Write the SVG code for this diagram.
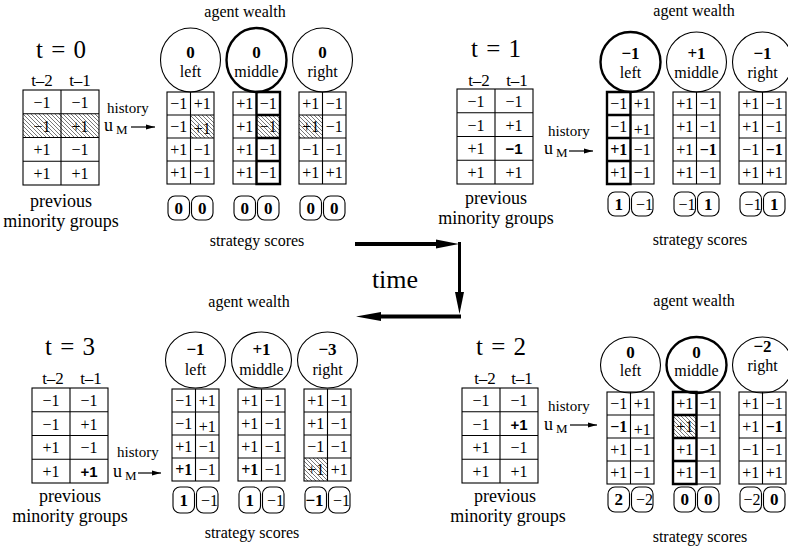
<svg xmlns="http://www.w3.org/2000/svg" width="788" height="546" viewBox="0 0 788 546">
<defs>
<style>
.cell{fill:none;stroke:#000;stroke-width:1.1}
.tk{fill:none;stroke:#000;stroke-width:2.4}
.ht{fill:url(#hatch);stroke:none}
.sr{font-family:"Liberation Serif","Times New Roman",serif;fill:#000}
.v{font-size:16px;text-anchor:middle}
.b{font-weight:bold}
.hs{font-family:"Liberation Sans",Arial,sans-serif;font-size:15px;font-weight:bold;text-anchor:middle}
.ci{fill:#fff;stroke:#000;stroke-width:1.1}
.cik{fill:#fff;stroke:#000;stroke-width:2.4}
.box{fill:none;stroke:#000;stroke-width:1.1}
.num{font-size:17px;font-weight:bold;text-anchor:middle}
.lbl{font-size:16px;text-anchor:middle}
.ttl{font-size:25px;text-anchor:middle;word-spacing:2px}
.tc{font-size:17px;text-anchor:middle}
.hist{font-size:15px}
.u{font-size:18px}
.m{font-size:13px}
.cap{font-size:18px;text-anchor:middle}
.hd{font-size:16px;text-anchor:middle}
.arr{stroke:#000;stroke-width:1.2;fill:none;marker-end:url(#ah)}
</style>
<pattern id="hatch" patternUnits="userSpaceOnUse" width="4" height="4">
<path d="M-1,-1L5,5M-1,3L1,5M3,-1L5,1" stroke="#555" stroke-width="0.8"/>
</pattern>
<marker id="ah" markerWidth="10" markerHeight="6" refX="9" refY="3" orient="auto" markerUnits="userSpaceOnUse"><path d="M0,0.6L9,3L0,5.4Z" fill="#000"/></marker>
<g id="sg"><rect width="47" height="92" class="cell"/><path class="cell" d="M23.5,0V92M0,23H47M0,46H47M0,69H47"/></g>
<g id="hg"><rect width="76" height="95" class="cell"/><path class="cell" d="M38,0V95M0,23.75H76M0,47.5H76M0,71.25H76"/></g>
</defs>
<rect width="788" height="546" fill="#fff"/>

<!-- ================= t = 0 ================= -->
<g id="t0-history" class="sr">
<text class="ttl" x="61" y="58">t = 0</text>
<text class="tc" x="42" y="86">t–2</text><text class="tc" x="80" y="86">t–1</text>
<g transform="translate(23,90)">
<rect class="ht" x="0" y="23.75" width="76" height="23.75"/>
<use href="#hg"/>
<g class="v">
<text x="19" y="17.5">−1</text><text x="57" y="17.5">−1</text>
<text x="19" y="41.5">−1</text><text x="57" y="41.5">+1</text>
<text x="19" y="65">+1</text><text x="57" y="65">−1</text>
<text x="19" y="88.5">+1</text><text x="57" y="88.5">+1</text>
</g>
</g>
<text class="hist" x="107" y="113">history</text>
<text class="u" x="104" y="131">u</text><text class="m" x="116" y="134">M</text>
<text class="cap" x="61" y="207">previous</text>
<text class="cap" x="61" y="227">minority groups</text>
</g>
<g id="t0-labels" class="sr">
<text class="hd" x="245" y="17">agent wealth</text>
<text class="hd" x="257" y="246">strategy scores</text>
</g>
<g id="t0-left" class="sr" transform="translate(167,92)">
<ellipse class="ci" cx="23.5" cy="-32" rx="30" ry="32"/>
<text class="num" x="23.5" y="-34">0</text><text class="lbl" x="23.5" y="-15">left</text>
<rect class="ht" x="23.5" y="23" width="23.5" height="23"/>
<use href="#sg"/>
<g class="v">
<text x="11.75" y="17">−1</text><text x="35.25" y="17">+1</text>
<text x="11.75" y="40">−1</text><text x="35.25" y="42">+1</text>
<text x="11.75" y="63">+1</text><text x="35.25" y="63">−1</text>
<text x="11.75" y="86">+1</text><text x="35.25" y="86">−1</text>
</g>
<rect class="box" x="1" y="104" width="21.5" height="24" rx="7"/><rect class="box" x="24.5" y="104" width="21.5" height="24" rx="7"/>
<text class="num" x="11.75" y="122">0</text><text class="num" x="35.25" y="122">0</text>
</g>
<g id="t0-middle" class="sr" transform="translate(233,92)">
<ellipse class="cik" cx="23.5" cy="-32" rx="30" ry="32"/>
<text class="num" x="23.5" y="-34">0</text><text class="lbl" x="23.5" y="-15">middle</text>
<rect class="ht" x="23.5" y="23" width="23.5" height="23"/>
<use href="#sg"/>
<path class="tk" d="M23.5,0H47V92H23.5ZM23.5,23H47M23.5,46H47M23.5,69H47"/>
<g class="v">
<text x="11.75" y="17">+1</text><text x="35.25" y="17">−1</text>
<text x="11.75" y="40">+1</text><text x="35.25" y="40">−1</text>
<text x="11.75" y="63">+1</text><text x="35.25" y="63">−1</text>
<text x="11.75" y="86">+1</text><text x="35.25" y="86">−1</text>
</g>
<rect class="box" x="1" y="104" width="21.5" height="24" rx="7"/><rect class="box" x="24.5" y="104" width="21.5" height="24" rx="7"/>
<text class="num" x="11.75" y="122">0</text><text class="num" x="35.25" y="122">0</text>
</g>
<g id="t0-right" class="sr" transform="translate(299,92)">
<ellipse class="ci" cx="23.5" cy="-32" rx="30" ry="32"/>
<text class="num" x="23.5" y="-34">0</text><text class="lbl" x="23.5" y="-15">right</text>
<rect class="ht" x="0" y="23" width="23.5" height="23"/>
<use href="#sg"/>
<g class="v">
<text x="11.75" y="17">+1</text><text x="35.25" y="17">−1</text>
<text x="11.75" y="40">+1</text><text x="35.25" y="40">−1</text>
<text x="11.75" y="63">−1</text><text x="35.25" y="63">−1</text>
<text x="11.75" y="86">+1</text><text x="35.25" y="86">+1</text>
</g>
<rect class="box" x="1" y="104" width="21.5" height="24" rx="7"/><rect class="box" x="24.5" y="104" width="21.5" height="24" rx="7"/>
<text class="num" x="11.75" y="122">0</text><text class="num" x="35.25" y="122">0</text>
</g>

<!-- ================= t = 1 ================= -->
<g id="t1-history" class="sr">
<text class="ttl" x="496" y="57">t = 1</text>
<text class="tc" x="479" y="86">t–2</text><text class="tc" x="517" y="86">t–1</text>
<g transform="translate(457,89)">
<use href="#hg"/>
<g class="v">
<text x="19" y="17.5">−1</text><text x="57" y="17.5">−1</text>
<text x="19" y="41.5">−1</text><text x="57" y="41.5">+1</text>
<text x="19" y="65">+1</text><text class="hs" x="57" y="65">−1</text>
<text x="19" y="88.5">+1</text><text x="57" y="88.5">+1</text>
</g>
</g>
<text class="hist" x="548" y="136">history</text>
<text class="u" x="544" y="154">u</text><text class="m" x="556" y="157">M</text>
<text class="cap" x="496" y="204">previous</text>
<text class="cap" x="496" y="224">minority groups</text>
</g>
<g id="t1-labels" class="sr">
<text class="hd" x="694" y="16">agent wealth</text>
<text class="hd" x="700" y="245">strategy scores</text>
</g>
<g id="t1-left" class="sr" transform="translate(607,92)">
<ellipse class="cik" cx="23.5" cy="-30" rx="30" ry="30"/>
<text class="num" x="23.5" y="-33">−1</text><text class="lbl" x="23.5" y="-14">left</text>
<use href="#sg"/>
<path class="tk" d="M0,0H23.5V92H0ZM0,23H23.5M0,46H23.5M0,69H23.5"/>
<g class="v">
<text x="11.75" y="17">−1</text><text x="35.25" y="17">+1</text>
<text x="11.75" y="40">−1</text><text x="35.25" y="43">+1</text>
<text class="b" x="11.75" y="63">+1</text><text x="35.25" y="63">−1</text>
<text x="11.75" y="86">+1</text><text x="35.25" y="86">−1</text>
</g>
<rect class="box" x="1" y="100" width="21.5" height="24" rx="7"/><rect class="box" x="24.5" y="100" width="21.5" height="24" rx="7"/>
<text class="num" x="11.75" y="118">1</text><text class="lbl" x="37.5" y="118">−1</text>
</g>
<g id="t1-middle" class="sr" transform="translate(673,92)">
<ellipse class="ci" cx="23.5" cy="-30" rx="30" ry="30"/>
<text class="num" x="23.5" y="-33">+1</text><text class="lbl" x="23.5" y="-14">middle</text>
<use href="#sg"/>
<g class="v">
<text x="11.75" y="17">+1</text><text x="35.25" y="17">−1</text>
<text x="11.75" y="40">+1</text><text x="35.25" y="40">−1</text>
<text x="11.75" y="63">+1</text><text class="b" x="35.25" y="63">−1</text>
<text x="11.75" y="86">+1</text><text x="35.25" y="86">−1</text>
</g>
<rect class="box" x="1" y="100" width="21.5" height="24" rx="7"/><rect class="box" x="24.5" y="100" width="21.5" height="24" rx="7"/>
<text class="lbl" x="14" y="118">−1</text><text class="num" x="35.25" y="118">1</text>
</g>
<g id="t1-right" class="sr" transform="translate(739,92)">
<ellipse class="ci" cx="23.5" cy="-30" rx="30" ry="30"/>
<text class="num" x="23.5" y="-33">−1</text><text class="lbl" x="23.5" y="-14">right</text>
<use href="#sg"/>
<g class="v">
<text x="11.75" y="17">+1</text><text x="35.25" y="17">−1</text>
<text x="11.75" y="40">+1</text><text x="35.25" y="40">−1</text>
<text x="11.75" y="63">−1</text><text class="b" x="35.25" y="63">−1</text>
<text x="11.75" y="86">+1</text><text x="35.25" y="86">+1</text>
</g>
<rect class="box" x="1" y="100" width="21.5" height="24" rx="7"/><rect class="box" x="24.5" y="100" width="21.5" height="24" rx="7"/>
<text class="lbl" x="14" y="118">−1</text><text class="num" x="35.25" y="118">1</text>
</g>

<!-- ================= t = 3 ================= -->
<g id="t3-history" class="sr">
<text class="ttl" x="70" y="355">t = 3</text>
<text class="tc" x="53" y="384">t–2</text><text class="tc" x="91" y="384">t–1</text>
<g transform="translate(32,388)">
<use href="#hg"/>
<g class="v">
<text x="19" y="17.5">−1</text><text x="57" y="17.5">−1</text>
<text x="19" y="41.5">−1</text><text x="57" y="41.5">+1</text>
<text x="19" y="65">+1</text><text x="57" y="65">−1</text>
<text x="19" y="88.5">+1</text><text class="hs" x="57" y="88.5">+1</text>
</g>
</g>
<text class="hist" x="117" y="457">history</text>
<text class="u" x="113" y="477">u</text><text class="m" x="125" y="480">M</text>
<text class="cap" x="70" y="502">previous</text>
<text class="cap" x="70" y="522">minority groups</text>
</g>
<g id="t3-labels" class="sr">
<text class="hd" x="249" y="307">agent wealth</text>
<text class="hd" x="252" y="538">strategy scores</text>
</g>
<g id="t3-left" class="sr" transform="translate(172,389)">
<ellipse class="ci" cx="23.5" cy="-29" rx="30" ry="28"/>
<text class="num" x="23.5" y="-34">−1</text><text class="lbl" x="23.5" y="-14">left</text>
<use href="#sg"/>
<g class="v">
<text x="11.75" y="17">−1</text><text x="35.25" y="17">+1</text>
<text x="11.75" y="40">−1</text><text x="35.25" y="43">+1</text>
<text x="11.75" y="63">+1</text><text x="35.25" y="63">−1</text>
<text class="b" x="11.75" y="86">+1</text><text x="35.25" y="86">−1</text>
</g>
<rect class="box" x="1" y="98" width="21.5" height="26" rx="7"/><rect class="box" x="24.5" y="98" width="21.5" height="26" rx="7"/>
<text class="num" x="11.75" y="117">1</text><text class="lbl" x="37.5" y="117">−1</text>
</g>
<g id="t3-middle" class="sr" transform="translate(238,389)">
<ellipse class="ci" cx="23.5" cy="-29" rx="30" ry="28"/>
<text class="num" x="23.5" y="-34">+1</text><text class="lbl" x="23.5" y="-14">middle</text>
<use href="#sg"/>
<g class="v">
<text x="11.75" y="17">+1</text><text x="35.25" y="17">−1</text>
<text x="11.75" y="40">+1</text><text x="35.25" y="40">−1</text>
<text x="11.75" y="63">+1</text><text x="35.25" y="63">−1</text>
<text class="b" x="11.75" y="86">+1</text><text x="35.25" y="86">−1</text>
</g>
<rect class="box" x="1" y="98" width="21.5" height="26" rx="7"/><rect class="box" x="24.5" y="98" width="21.5" height="26" rx="7"/>
<text class="num" x="11.75" y="117">1</text><text class="lbl" x="37.5" y="117">−1</text>
</g>
<g id="t3-right" class="sr" transform="translate(304,389)">
<ellipse class="ci" cx="23.5" cy="-29" rx="30" ry="28"/>
<text class="num" x="23.5" y="-34">−3</text><text class="lbl" x="23.5" y="-14">right</text>
<rect class="ht" x="0" y="69" width="23.5" height="23"/>
<use href="#sg"/>
<g class="v">
<text x="11.75" y="17">+1</text><text x="35.25" y="17">−1</text>
<text x="11.75" y="40">+1</text><text x="35.25" y="40">−1</text>
<text x="11.75" y="63">−1</text><text x="35.25" y="63">−1</text>
<text x="11.75" y="86">+1</text><text x="35.25" y="86">+1</text>
</g>
<rect class="box" x="1" y="98" width="21.5" height="26" rx="7"/><rect class="box" x="24.5" y="98" width="21.5" height="26" rx="7"/>
<text class="num" x="10.5" y="117">−1</text><text class="lbl" x="37.5" y="117">−1</text>
</g>

<!-- ================= t = 2 ================= -->
<g id="t2-history" class="sr">
<text class="ttl" x="501" y="355">t = 2</text>
<text class="tc" x="485" y="384">t–2</text><text class="tc" x="522" y="384">t–1</text>
<g transform="translate(462,388)">
<use href="#hg"/>
<g class="v">
<text x="19" y="17.5">−1</text><text x="57" y="17.5">−1</text>
<text x="19" y="41.5">−1</text><text class="hs" x="57" y="41.5">+1</text>
<text x="19" y="65">+1</text><text x="57" y="65">−1</text>
<text x="19" y="88.5">+1</text><text x="57" y="88.5">+1</text>
</g>
</g>
<text class="hist" x="548" y="411">history</text>
<text class="u" x="544" y="430">u</text><text class="m" x="556" y="433">M</text>
<text class="cap" x="505" y="502">previous</text>
<text class="cap" x="508" y="522">minority groups</text>
</g>
<g id="t2-labels" class="sr">
<text class="hd" x="694" y="306">agent wealth</text>
<text class="hd" x="700" y="542">strategy scores</text>
</g>
<g id="t2-left" class="sr" transform="translate(607,392)">
<ellipse class="ci" cx="23.5" cy="-27" rx="30" ry="28"/>
<text class="num" x="23.5" y="-34">0</text><text class="lbl" x="23.5" y="-16">left</text>
<use href="#sg"/>
<g class="v">
<text x="11.75" y="17">−1</text><text x="35.25" y="17">+1</text>
<text class="b" x="11.75" y="40">−1</text><text x="35.25" y="43">+1</text>
<text x="11.75" y="63">+1</text><text x="35.25" y="63">−1</text>
<text x="11.75" y="86">+1</text><text x="35.25" y="86">−1</text>
</g>
<rect class="box" x="1" y="95" width="21.5" height="25" rx="7"/><rect class="box" x="24.5" y="95" width="21.5" height="25" rx="7"/>
<text class="num" x="11.75" y="113">2</text><text class="lbl" x="37.5" y="113">−2</text>
</g>
<g id="t2-middle" class="sr" transform="translate(673,392)">
<ellipse class="cik" cx="23.5" cy="-27" rx="30" ry="28"/>
<text class="num" x="23.5" y="-34">0</text><text class="lbl" x="23.5" y="-16">middle</text>
<rect class="ht" x="0" y="23" width="23.5" height="23"/>
<use href="#sg"/>
<path class="tk" d="M0,0H23.5V92H0ZM0,23H23.5M0,46H23.5M0,69H23.5"/>
<g class="v">
<text x="11.75" y="17">+1</text><text x="35.25" y="17">−1</text>
<text x="11.75" y="40">+1</text><text x="35.25" y="40">−1</text>
<text x="11.75" y="63">+1</text><text x="35.25" y="63">−1</text>
<text x="11.75" y="86">+1</text><text x="35.25" y="86">−1</text>
</g>
<rect class="box" x="1" y="95" width="21.5" height="25" rx="7"/><rect class="box" x="24.5" y="95" width="21.5" height="25" rx="7"/>
<text class="num" x="11.75" y="113">0</text><text class="num" x="35.25" y="113">0</text>
</g>
<g id="t2-right" class="sr" transform="translate(739,392)">
<ellipse class="ci" cx="23.5" cy="-27" rx="30" ry="28"/>
<text class="num" x="23.5" y="-40">−2</text><text class="lbl" x="23.5" y="-21">right</text>
<use href="#sg"/>
<g class="v">
<text x="11.75" y="17">+1</text><text x="35.25" y="17">−1</text>
<text x="11.75" y="40">+1</text><text class="b" x="35.25" y="40">−1</text>
<text x="11.75" y="63">−1</text><text x="35.25" y="63">−1</text>
<text x="11.75" y="86">+1</text><text x="35.25" y="86">+1</text>
</g>
<rect class="box" x="1" y="95" width="21.5" height="25" rx="7"/><rect class="box" x="24.5" y="95" width="21.5" height="25" rx="7"/>
<text class="lbl" x="13" y="113">−2</text><text class="num" x="35.25" y="113">0</text>
</g>

<!-- ================= connectors ================= -->
<g id="connectors">
<path class="arr" d="M131,127H155"/>
<path class="arr" d="M569,151H593"/>
<path class="arr" d="M138,473H161"/>
<path class="arr" d="M570,425H597"/>
<path d="M355,244H440" stroke="#000" stroke-width="4" fill="none"/>
<polygon points="436,239.5 459,244 436,248.5" fill="#000"/>
<path d="M459.5,242V294" stroke="#000" stroke-width="3" fill="none"/>
<polygon points="455,292 459.5,314 464,292" fill="#000"/>
<path d="M461,316.5H378" stroke="#000" stroke-width="4" fill="none"/>
<polygon points="381,312 356,316.5 381,321" fill="#000"/>
<text x="395" y="288" font-family="Liberation Serif, Times New Roman, serif" font-size="26" text-anchor="middle">time</text>
</g>
</svg>
